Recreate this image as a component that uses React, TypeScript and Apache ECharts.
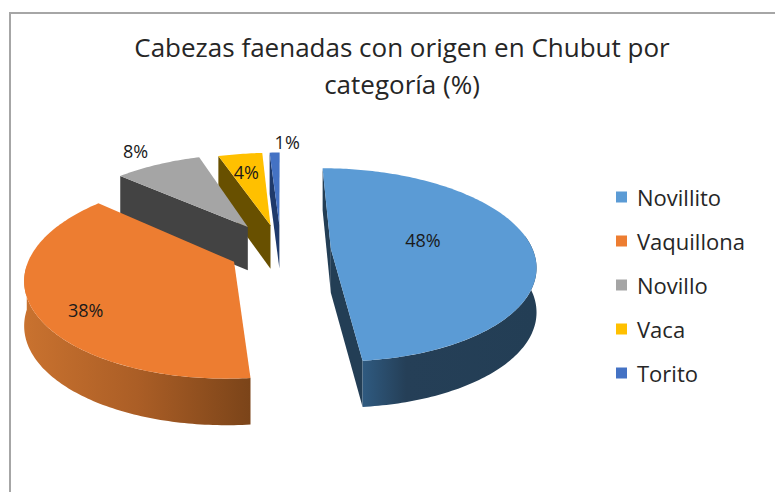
import React, { useEffect, useRef } from "react";
import * as echarts from "echarts";

const titleText = "Cabezas faenadas con origen en Chubut por\ncategoría (%)";
const categories = ["Novillito", "Vaquillona", "Novillo", "Vaca", "Torito"];
const shares = [48.4, 37.8, 8.4, 4.4, 1.0];
const shareLabels = ["48%", "38%", "8%", "4%", "1%"];
const colors = ["#5b9bd5", "#ed7d31", "#a5a5a5", "#ffc000", "#4472c4"];
const sideColors = ["#233e55", "#8a4a1c", "#434343", "#685000", "#1f3a6b"];

// Projection of the exploded, tilted 3D pie
const CX = 281, CY = 250, R = 202, TILT = 0.48, PERSPECTIVE = 0.165;
const explode = [50, 52, 61, 55, 55];
const FONT = '"Open Sans", sans-serif';

const total = shares.reduce((a, b) => a + b, 0);
const rad = (d: number) => (d * Math.PI) / 180;
const project = (X: number, Y: number, depth = 0): number[] => {
  const s = 1 + (PERSPECTIVE * Y) / R;
  return [CX + X * s, CY + Y * TILT * s + depth * (30 + 14 * s) / 44];
};
const wedgeAngles = (i: number) => {
  const start = (shares.slice(0, i).reduce((a, b) => a + b, 0) / total) * 360;
  const end = start + (shares[i] / total) * 360;
  return [start, end];
};
const labelFraction = [0.5, 0.5, 1.12, 0.72, 1.12];
const labelNudge = [[-8, -6], [-52, 24], [-14, -7], [-1, 1], [13, -4]];

const wedgeGradients: Record<number, any> = {
  0: [[0, "#2f5a80"], [0.25, "#253f57"], [1, "#233e55"]],
  1: [[0, "#c9722f"], [0.5, "#ab5e26"], [1, "#7b4419"]],
};

const renderWedge = (i: number) => (_p: any, api: any) => {
  const color = api.visual("color");
  const [a0, a1] = wedgeAngles(i);
  const mid = (a0 + a1) / 2;
  const ex = explode[i] * Math.sin(rad(mid));
  const ey = -explode[i] * Math.cos(rad(mid));
  const point = (deg: number, r: number, depth = 0) =>
    project(ex + r * Math.sin(rad(deg)), ey - r * Math.cos(rad(deg)), depth);
  const DEPTH = 44;
  const arc = (from: number, to: number, depth = 0) => {
    const n = Math.max(2, Math.ceil(Math.abs(to - from)));
    const out: number[][] = [];
    for (let k = 0; k <= n; k++) out.push(point(from + ((to - from) * k) / n, R, depth));
    return out;
  };
  const children: any[] = [];
  const side = sideColors[i];
  const wall = (deg: number) => ({
    type: "polygon",
    shape: { points: [point(deg, R), point(deg, 0), point(deg, 0, DEPTH), point(deg, R, DEPTH)] },
    style: { fill: side },
  });
  // radial side walls that face the viewer
  if (i === 0) { children.push(wall(a0)); children.push(wall(a1)); }
  if (i >= 2) children.push(wall(a0));
  // outer rim
  const r0 = Math.max(a0, 82), r1 = Math.min(a1, 268);
  if (r1 > r0) {
    const top = arc(r0, r1);
    const bottom = arc(r1, r0, DEPTH);
    const stops = wedgeGradients[i] || [[0, side], [1, side]];
    children.push({
      type: "polygon",
      shape: { points: top.concat(bottom) },
      style: {
        fill: new echarts.graphic.LinearGradient(0, 0, 1, 0,
          stops.map((s: any) => ({ offset: s[0], color: s[1] }))),
      },
    });
  }
  // top face
  children.push({
    type: "polygon",
    shape: { points: [point(0, 0)].concat(arc(a0, a1)) },
    style: { fill: color },
  });
  const lp = point(mid, R * labelFraction[i]);
  children.push({
    type: "text",
    style: {
      text: shareLabels[i],
      x: lp[0] + labelNudge[i][0],
      y: lp[1] + labelNudge[i][1],
      fill: "#1a1a1a",
      font: `18px ${FONT}`,
      align: "center",
      verticalAlign: "middle",
    },
  });
  return { type: "group", children };
};

export default function App() {
  const ref = useRef<HTMLDivElement>(null);
  useEffect(() => {
    document.body.style.margin = "0";
    const chart = echarts.init(ref.current!, undefined, { renderer: "svg" });
    const drawOrder = [4, 3, 2, 0, 1];
    chart.setOption({
      animation: false,
      backgroundColor: "#ffffff",
      title: {
        text: titleText,
        left: 397,
        top: 23,
        textAlign: "center",
        textStyle: { fontFamily: FONT, fontSize: 26, fontWeight: "normal", color: "#262626", lineHeight: 37 },
      },
      legend: {
        orient: "vertical",
        left: 611,
        top: 179,
        itemWidth: 11,
        itemHeight: 11,
        itemGap: 18,
        selectedMode: false,
        data: categories.map((name) => ({ name, icon: "rect" })),
        textStyle: { fontFamily: FONT, fontSize: 22, color: "#262626", padding: [0, 0, 0, 5], height: 26, lineHeight: 26 },
      },
      graphic: [
        { type: "polyline", shape: { points: [[10, 492], [10, 13], [775, 13]] }, style: { stroke: "#a6a6a6", lineWidth: 2, fill: "none" } },
      ],
      series: drawOrder.map((i) => ({
        type: "custom",
        name: categories[i],
        coordinateSystem: "none",
        itemStyle: { color: colors[i] },
        data: [shares[i]],
        renderItem: renderWedge(i),
      })),
    });
    return () => chart.dispose();
  }, []);
  return <div ref={ref} style={{ width: 775, height: 492 }} />;
}
